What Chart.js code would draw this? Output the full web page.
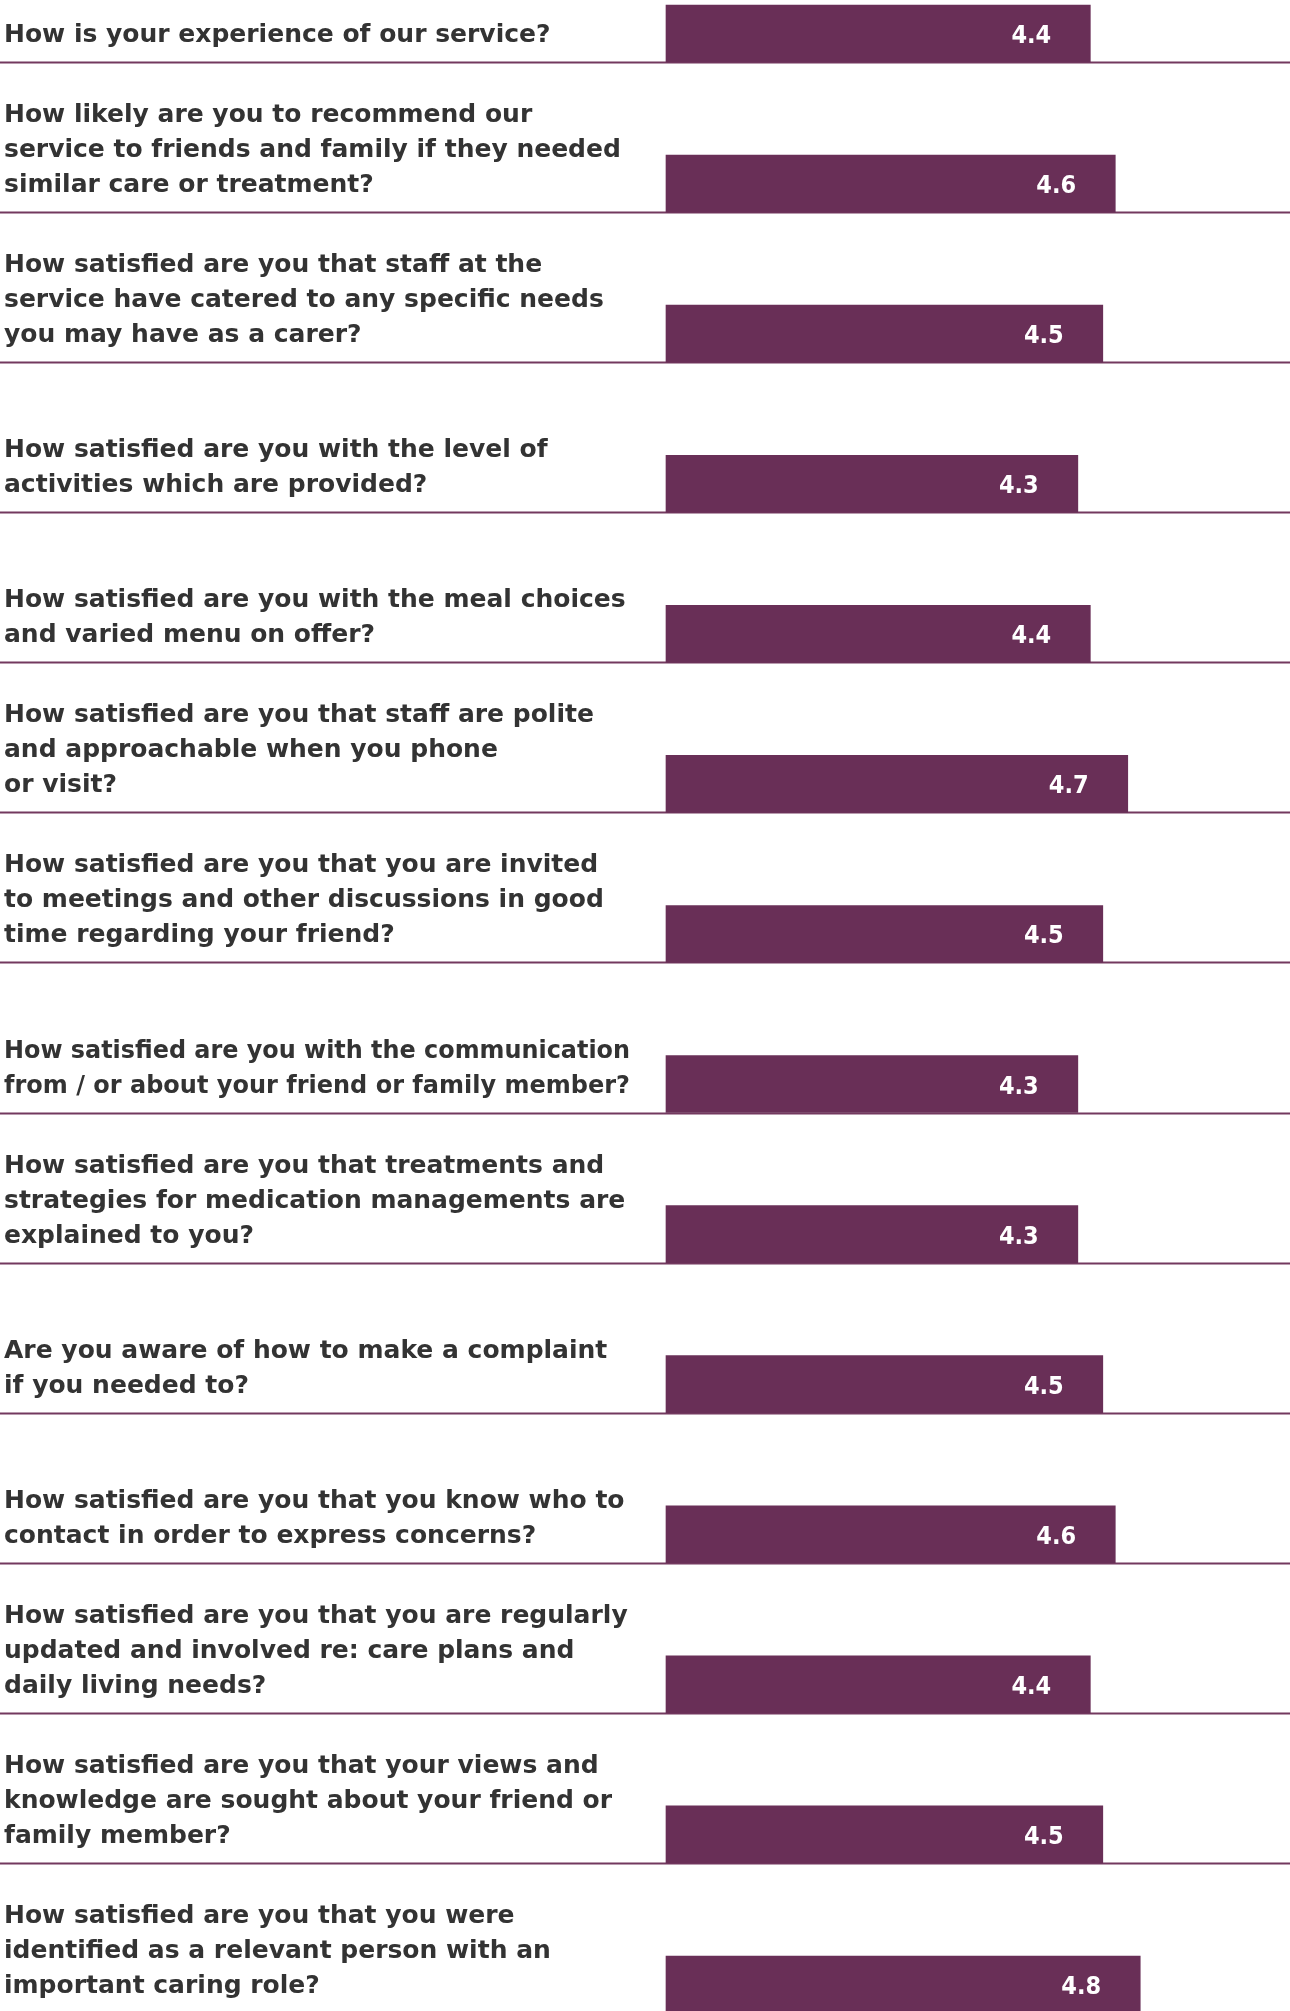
<!DOCTYPE html>
<html>
<head>
<meta charset="utf-8">
<title>Carer survey results</title>
<script src="https://cdn.jsdelivr.net/npm/chart.js@4"></script>
<style>
  html, body { margin: 0; padding: 0; background: #ffffff; }
  #surveyChart { display: block; }
</style>
</head>
<body>
<canvas id="surveyChart" width="1290" height="2011"></canvas>
<script>
// ===== Data =====
const questions = [
  ['How is your experience of our service?'],
  ['How likely are you to recommend our', 'service to friends and family if they needed', 'similar care or treatment?'],
  ['How satisfied are you that staff at the', 'service have catered to any specific needs', 'you may have as a carer?'],
  ['How satisfied are you with the level of', 'activities which are provided?'],
  ['How satisfied are you with the meal choices', 'and varied menu on offer?'],
  ['How satisfied are you that staff are polite', 'and approachable when you phone', 'or visit?'],
  ['How satisfied are you that you are invited', 'to meetings and other discussions in good', 'time regarding your friend?'],
  ['How satisfied are you with the communication', 'from / or about your friend or family member?'],
  ['How satisfied are you that treatments and', 'strategies for medication managements are', 'explained to you?'],
  ['Are you aware of how to make a complaint', 'if you needed to?'],
  ['How satisfied are you that you know who to', 'contact in order to express concerns?'],
  ['How satisfied are you that you are regularly', 'updated and involved re: care plans and', 'daily living needs?'],
  ['How satisfied are you that your views and', 'knowledge are sought about your friend or', 'family member?'],
  ['How satisfied are you that you were', 'identified as a relevant person with an', 'important caring role?']
];

const scores = [4.4, 4.6, 4.5, 4.3, 4.4, 4.7, 4.5, 4.3, 4.3, 4.5, 4.6, 4.4, 4.5, 4.8];

// rating scale shown on the value axis
const scaleMin = 1;
const scaleMax = 6;

// ===== Colours =====
const colors = {
  bar: '#692f57',
  rule: '#73395f',
  text: '#333333',
  value: '#ffffff'
};

const BAR_HEIGHT = 57;
const LINE_HEIGHT = 35;

// ===== Row text, separators and value labels =====
const rowsPlugin = {
  id: 'rows',
  beforeDatasetsDraw(chart) {
    const ctx = chart.ctx;
    const bars = chart.getDatasetMeta(0).data;
    ctx.save();
    ctx.strokeStyle = colors.rule;
    ctx.lineWidth = 2;
    bars.forEach(bar => {
      const y = Math.round(bar.y + BAR_HEIGHT / 2) + 0.5;
      ctx.beginPath();
      ctx.moveTo(0, y);
      ctx.lineTo(chart.width, y);
      ctx.stroke();
    });
    ctx.restore();
  },
  afterDatasetsDraw(chart) {
    const ctx = chart.ctx;
    const bars = chart.getDatasetMeta(0).data;
    // keep the question text clear of the bars
    const textWidth = chart.chartArea.left - 40;
    ctx.save();
    ctx.textBaseline = 'middle';

    // question text, bottom line level with the bar
    ctx.fillStyle = colors.text;
    ctx.textAlign = 'left';
    ctx.font = 'bold 25px "DejaVu Sans", sans-serif';
    bars.forEach((bar, i) => {
      const lines = chart.data.labels[i];
      lines.forEach((line, j) => {
        const y = bar.y + 2 - (lines.length - 1 - j) * LINE_HEIGHT;
        ctx.fillText(line, 4, y, textWidth);
      });
    });

    // score inside the end of the bar
    ctx.fillStyle = colors.value;
    ctx.textAlign = 'center';
    ctx.font = 'bold 25px "DejaVu Sans Condensed", "DejaVu Sans", sans-serif';
    bars.forEach((bar, i) => {
      ctx.fillText(scores[i].toFixed(1), bar.x - 59, bar.y + 3);
    });
    ctx.restore();
  }
};

// ===== Chart =====
const surveyChart = new Chart(document.getElementById('surveyChart'), {
  type: 'bar',
  data: {
    labels: questions,
    datasets: [{
      data: scores,
      base: scaleMin,
      backgroundColor: colors.bar,
      borderWidth: 0,
      barThickness: BAR_HEIGHT,
      clip: false
    }]
  },
  options: {
    indexAxis: 'y',
    responsive: false,
    animation: false,
    devicePixelRatio: 1,
    layout: {
      padding: { left: 666, right: 0, top: 33.5, bottom: 26.5 }
    },
    scales: {
      x: {
        display: false,
        min: scaleMin,
        max: scaleMax
      },
      y: {
        display: false,
        offset: false
      }
    },
    plugins: {
      legend: { display: false },
      tooltip: { enabled: false }
    }
  },
  plugins: [rowsPlugin]
});
</script>
</body>
</html>
